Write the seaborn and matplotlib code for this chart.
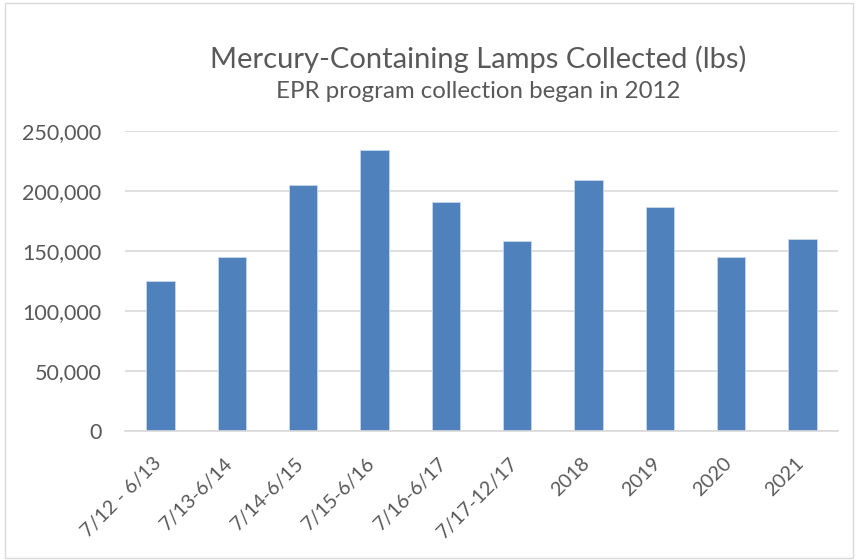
import matplotlib

matplotlib.use("Agg")
import matplotlib.pyplot as plt  # noqa: E402
import seaborn as sns  # noqa: E402
import pandas as pd  # noqa: E402
from matplotlib.patches import Rectangle  # noqa: E402
from matplotlib.ticker import FuncFormatter  # noqa: E402
from matplotlib.transforms import ScaledTranslation  # noqa: E402

# Dados
periodos = ["7/12 - 6/13", "7/13-6/14", "7/14-6/15", "7/15-6/16", "7/16-6/17",
            "7/17-12/17", "2018", "2019", "2020", "2021"]
libras = [125300, 145000, 205000, 234000, 191200, 158100, 209200, 186400, 144800, 159800]

titulo = "Mercury-Containing Lamps Collected (lbs)"
subtitulo = "EPR program collection began in 2012"

COR_BARRA = "#4F81BD"
COR_TEXTO = "#595959"
COR_GRADE = "#D9D9D9"

sns.set_style("white")
plt.rcParams["font.family"] = ["Lato", "DejaVu Sans"]

df = pd.DataFrame({"periodo": periodos, "libras": libras})

fig = plt.figure(figsize=(8.56, 5.6), dpi=100)
ax = fig.add_axes([0.146, 0.2304, 0.833, 0.5357])

sns.barplot(data=df, x="periodo", y="libras", color=COR_BARRA, saturation=1,
            width=0.40, edgecolor="#C9D7EA", linewidth=0.6, ax=ax)

ax.set_ylim(0, 250000)
ax.set_xlim(-0.5, len(periodos) - 0.5)
ax.set_yticks(range(0, 250001, 50000))
ax.yaxis.set_major_formatter(FuncFormatter(lambda v, _: f"{int(v):,}"))
ax.grid(True, axis="y", color=COR_GRADE, linewidth=1.2)
ax.set_axisbelow(True)
for lado in ["top", "right", "left"]:
    ax.spines[lado].set_visible(False)
ax.spines["bottom"].set_color(COR_GRADE)
ax.spines["bottom"].set_linewidth(1.2)

ax.tick_params(axis="x", length=0, colors=COR_TEXTO, labelsize=14.3, pad=21)
ax.tick_params(axis="y", length=0, colors=COR_TEXTO, labelsize=15.5, pad=17)

# rotulos do eixo x inclinados, como no Excel
desloc = ScaledTranslation(-2 / 100, 0, fig.dpi_scale_trans)
for rotulo in ax.get_xticklabels():
    rotulo.set_rotation(45)
    rotulo.set_ha("right")
    rotulo.set_va("center")
    rotulo.set_rotation_mode("anchor")
    rotulo.set_transform(rotulo.get_transform() + desloc)
ax.set_xlabel("")
ax.set_ylabel("")

fig.text(0.559, 0.895, titulo, ha="center", va="center", fontsize=21, color=COR_TEXTO)
fig.text(0.559, 0.836, subtitulo, ha="center", va="center", fontsize=17.3, color=COR_TEXTO)

# moldura do grafico
fig.patches.append(Rectangle((0.006, 0.004), 0.99, 0.99, transform=fig.transFigure,
                             fill=False, edgecolor="#D9D9D9", linewidth=1))

fig.savefig("out.png", dpi=100)
plt.close(fig)
